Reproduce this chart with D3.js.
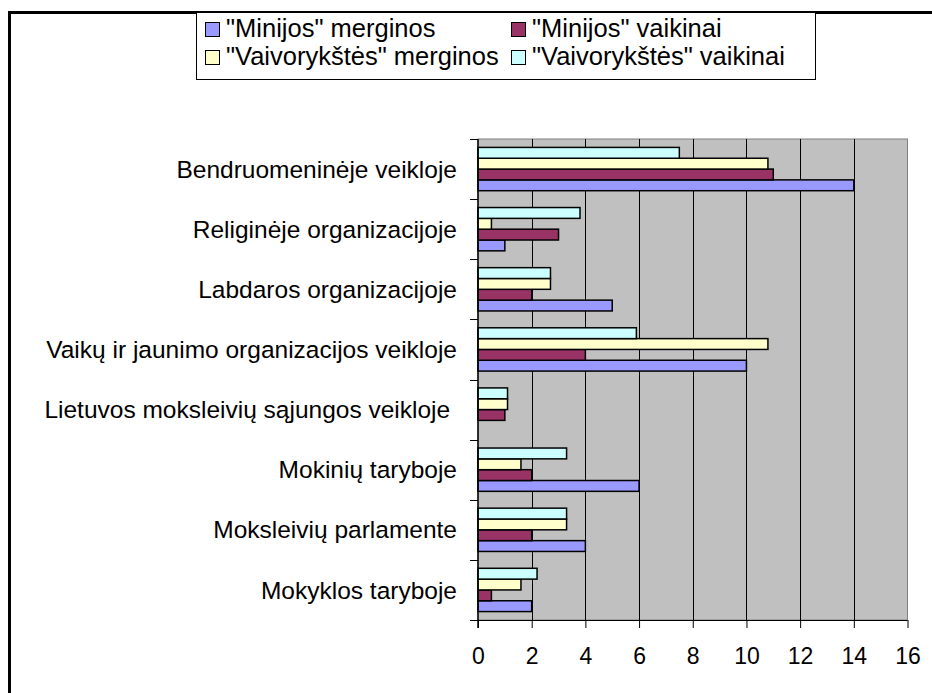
<!DOCTYPE html>
<html>
<head>
<meta charset="utf-8">
<script src="https://cdn.jsdelivr.net/npm/d3@7"></script>
<style>
  body { margin: 0; background: #fff; }
  svg { display: block; font-family: "Liberation Sans", Arial, sans-serif; }
  text { white-space: pre; }
</style>
</head>
<body>
<svg id="chart" width="932" height="693"></svg>
<script>
// categories, top to bottom as in the chart
const categories = [
  "Bendruomeninėje veikloje",
  "Religinėje organizacijoje",
  "Labdaros organizacijoje",
  "Vaikų ir jaunimo organizacijos veikloje",
  "Lietuvos moksleivių sąjungos veikloje ",
  "Mokinių taryboje",
  "Moksleivių parlamente",
  "Mokyklos taryboje"
];

const seriesNames = ['"Minijos" merginos', '"Minijos" vaikinai', '"Vaivorykštės" merginos', '"Vaivorykštės" vaikinai'];
const seriesColors = ["#9999FF", "#993366", "#FFFFCC", "#CCFFFF"];

const minijosMerginos = [14, 1, 5, 10, 0, 6, 4, 2];
const minijosVaikinai = [11, 3, 2, 4, 1, 2, 2, 0.5];
const vaivMerginos = [10.8, 0.5, 2.7, 10.8, 1.1, 1.6, 3.3, 1.6];
const vaivVaikinai = [7.5, 3.8, 2.7, 5.9, 1.1, 3.3, 3.3, 2.2];

const xTicks = [0, 2, 4, 6, 8, 10, 12, 14, 16];

const series = [minijosMerginos, minijosVaikinai, vaivMerginos, vaivVaikinai];

const plot = {left: 478, right: 907.5, top: 139, bottom: 620};
const svg = d3.select("#chart");

// outer frame (runs off the right and bottom of the picture)
svg.append("rect")
  .attr("x", 9.5).attr("y", 12.5)
  .attr("width", 1000).attr("height", 1000)
  .attr("fill", "none").attr("stroke", "#000").attr("stroke-width", 3);

const x = d3.scaleLinear().domain([0, 16]).range([plot.left, plot.right]);
const y = d3.scaleBand().domain(categories).range([plot.top, plot.bottom])
  .paddingInner(0.28).paddingOuter(0.14);
// series 0 sits at the bottom of each group
const yInner = d3.scaleBand().domain([3, 2, 1, 0]).range([0, y.bandwidth()]);

// plot background
svg.append("rect")
  .attr("x", plot.left).attr("y", plot.top)
  .attr("width", plot.right - plot.left).attr("height", plot.bottom - plot.top)
  .attr("fill", "#C0C0C0").attr("stroke", "#808080").attr("stroke-width", 1);

// gridlines
svg.append("g").selectAll("line")
  .data(xTicks.filter(d => d > 0 && d < 16)).enter().append("line")
  .attr("x1", d => Math.round(x(d)) + 0.5).attr("x2", d => Math.round(x(d)) + 0.5)
  .attr("y1", plot.top).attr("y2", plot.bottom)
  .attr("stroke", "#000").attr("stroke-width", 1);

// bars
categories.forEach((c, i) => {
  series.forEach((vals, s) => {
    if (!vals[i]) return;
    svg.append("rect")
      .attr("x", x(0))
      .attr("y", y(c) + yInner(s))
      .attr("width", x(vals[i]) - x(0))
      .attr("height", yInner.bandwidth())
      .attr("fill", seriesColors[s])
      .attr("stroke", "#000").attr("stroke-width", 1.5);
  });
});

// axes
const xAxis = d3.axisBottom(x).tickValues(xTicks).tickSize(8).tickPadding(20);
const gx = svg.append("g").attr("transform", "translate(0," + plot.bottom + ")").call(xAxis);
gx.select(".domain").attr("d", "M470,0.5H" + plot.right);
gx.selectAll("text").attr("font-size", 23).attr("font-family", null).attr("fill", "#000");

const yEdges = d3.scaleLinear().domain([0, categories.length]).range([plot.top, plot.bottom]);
const gy = svg.append("g");
gy.append("line")
  .attr("x1", plot.left).attr("x2", plot.left)
  .attr("y1", plot.top).attr("y2", plot.bottom + 8)
  .attr("stroke", "#000").attr("stroke-width", 1.5);
gy.selectAll("line.tick")
  .data(d3.range(categories.length)).enter().append("line")
  .attr("class", "tick")
  .attr("x1", 470).attr("x2", plot.left)
  .attr("y1", d => Math.round(yEdges(d)) + 0.5).attr("y2", d => Math.round(yEdges(d)) + 0.5)
  .attr("stroke", "#000");
gy.selectAll("text")
  .data(categories).enter().append("text")
  .attr("x", 457)
  .attr("y", d => y(d) + y.bandwidth() / 2)
  .attr("dy", "0.35em")
  .attr("text-anchor", "end")
  .attr("font-size", 24.5)
  .text(d => d);

// legend
const legend = svg.append("g");
legend.append("rect")
  .attr("x", 196.5).attr("y", 12.5).attr("width", 619).attr("height", 67)
  .attr("fill", "#fff").attr("stroke", "#000").attr("stroke-width", 1);
const legendPos = [[205, 37], [511, 37], [205, 65], [511, 65]];
seriesNames.forEach((name, s) => {
  const p = legendPos[s];
  legend.append("rect")
    .attr("x", p[0] + 0.5).attr("y", p[1] - 14.5).attr("width", 14).attr("height", 14)
    .attr("fill", seriesColors[s]).attr("stroke", "#000");
  legend.append("text")
    .attr("x", p[0] + 21).attr("y", p[1])
    .attr("font-size", 25.5)
    .text(name);
});
</script>
</body>
</html>
